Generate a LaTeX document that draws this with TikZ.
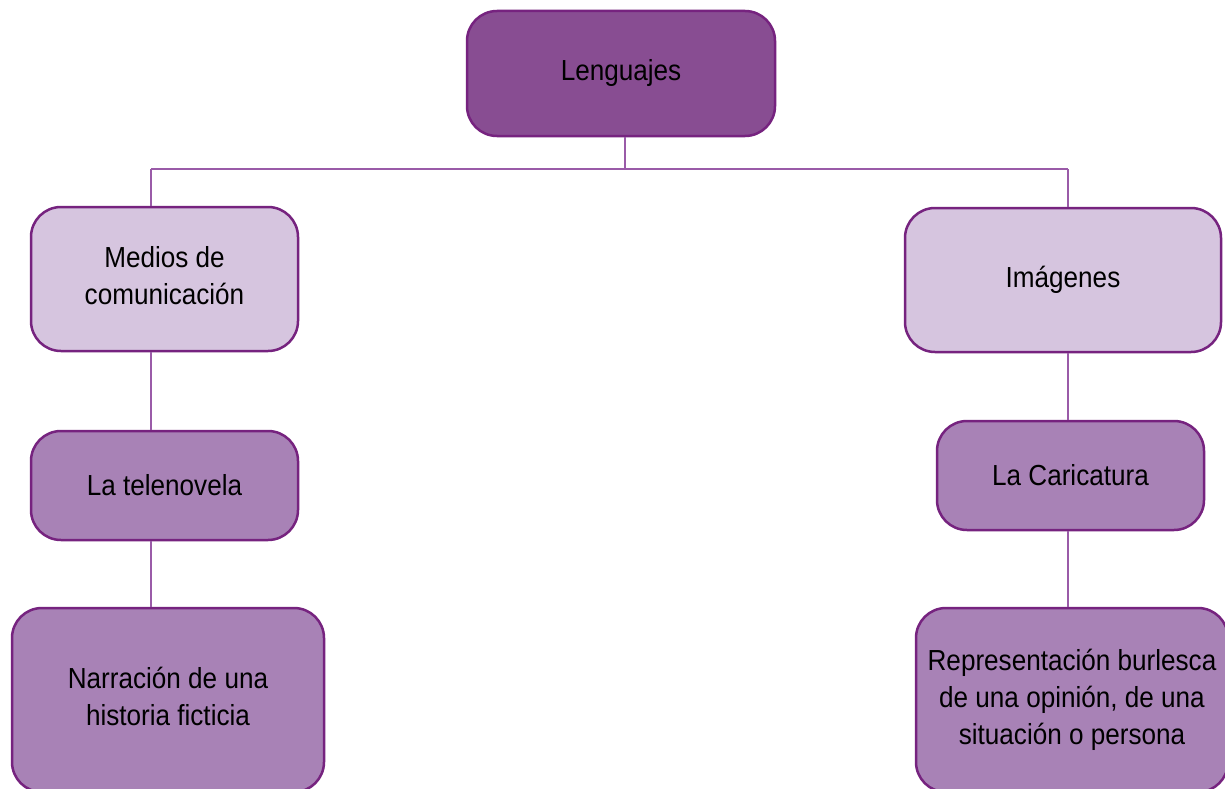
\documentclass[tikz,border=0pt]{standalone}
\usepackage{fontspec}
\setmainfont[FakeStretch=0.90]{Liberation Sans}
\definecolor{dark}{HTML}{884D92}
\definecolor{light}{HTML}{D6C5DF}
\definecolor{mid}{HTML}{A882B6}
\definecolor{edge}{HTML}{76237F}
\definecolor{conn}{HTML}{9A5BA8}
\tikzset{
  box/.style={draw=edge, line width=2.5pt, rounded corners=30pt, align=center,
    inner sep=0pt, font=\fontsize{29}{37}\selectfont, text=black},
  topbox/.style={box, fill=dark},
  lightbox/.style={box, fill=light},
  midbox/.style={box, fill=mid},
  link/.style={draw=conn, line width=2pt}
}
\begin{document}
\begin{tikzpicture}[x=1pt,y=1pt]
\useasboundingbox (0,0) rectangle (1225,-789);
\clip (0,0) rectangle (1225,-789);
\fill[white] (0,0) rectangle (1225,-789);
\node[topbox, minimum width=308pt, minimum height=125pt] (len) at (621,-73.5) {Lenguajes};
\node[lightbox, minimum width=267pt, minimum height=144pt] (med) at (164.5,-279) {\raisebox{4pt}{\begin{tabular}{@{}c@{}}Medios de\\comunicación\end{tabular}}};
\node[lightbox, minimum width=316pt, minimum height=144pt] (img) at (1063,-280) {\raisebox{-3pt}{Imágenes}};
\node[midbox, minimum width=267pt, minimum height=109pt] (tel) at (164.5,-485.5) {La telenovela};
\node[midbox, minimum width=267pt, minimum height=109pt] (car) at (1070.5,-475.5) {La Caricatura};
\node[midbox, minimum width=312pt, minimum height=184pt] (nar) at (168,-700) {\raisebox{5pt}{\begin{tabular}{@{}c@{}}Narración de una\\historia ficticia\end{tabular}}};
\node[midbox, minimum width=312pt, minimum height=184pt] (rep) at (1072,-700) {Representación burlesca\\de una opinión, de una\\situación o persona};
\coordinate (hub) at (625,-169);
\coordinate (hl) at (151,-169);
\coordinate (hr) at (1068,-169);
\draw[link] (len.south -| hub) -- (hub);
\draw[link] (hl) -- (hr);
\draw[link] (hl) -- (hl |- med.north);
\draw[link] (hr) -- (hr |- img.north);
\draw[link] (hl |- med.south) -- (hl |- tel.north);
\draw[link] (hl |- tel.south) -- (hl |- nar.north);
\draw[link] (hr |- img.south) -- (hr |- car.north);
\draw[link] (hr |- car.south) -- (hr |- rep.north);
\end{tikzpicture}
\end{document}
